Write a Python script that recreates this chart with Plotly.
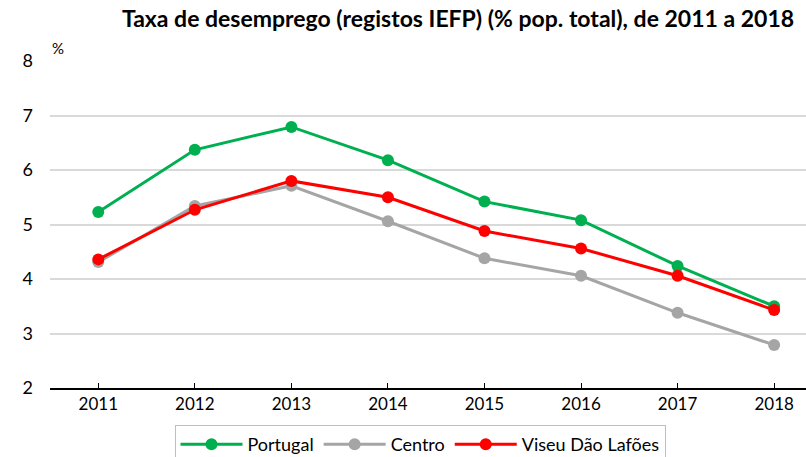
import plotly.graph_objects as go

years = ["2011", "2012", "2013", "2014", "2015", "2016", "2017", "2018"]
portugal = [5.23, 6.37, 6.79, 6.18, 5.42, 5.08, 4.24, 3.50]
centro = [4.31, 5.34, 5.71, 5.06, 4.38, 4.06, 3.38, 2.79]
viseu = [4.36, 5.27, 5.80, 5.50, 4.88, 4.56, 4.06, 3.43]

series = [
    ("Portugal", portugal, "#00B050"),
    ("Centro", centro, "#A5A5A5"),
    ("Viseu Dão Lafões", viseu, "#FF0000"),
]

font_family = "Lato, Open Sans, sans-serif"

fig = go.Figure()
for name, vals, color in series:
    fig.add_trace(go.Scatter(
        x=list(range(len(years))), y=vals, name=name, mode="lines+markers",
        line=dict(color=color, width=3),
        marker=dict(color=color, size=12),
    ))

fig.update_layout(
    width=806, height=457,
    margin=dict(l=50, r=0, t=61, b=69),
    paper_bgcolor="white", plot_bgcolor="white",
    font=dict(family=font_family, color="black", size=17),
    title=dict(
        text="<b>Taxa de desemprego (registos IEFP) (% pop. total), de 2011 a 2018</b>",
        x=458 / 806, xanchor="center", xref="container", y=1 - 19 / 457, yanchor="middle",
        yref="container",
        font=dict(size=23, family=font_family, color="black"),
    ),
    showlegend=True,
    legend=dict(
        orientation="h", x=420 / 806, xanchor="center", xref="container",
        y=1 - 425 / 457, yanchor="top", yref="container",
        bordercolor="#BFBFBF", borderwidth=1, font=dict(size=18),
        itemwidth=62, tracegroupgap=0,
    ),
    xaxis=dict(
        range=[-0.5, 7.33], tickmode="array",
        tickvals=list(range(len(years))), ticktext=years,
        showgrid=False, zeroline=False, automargin=False,
        showline=True, linecolor="black", linewidth=2,
        ticks="inside", ticklen=5, tickcolor="black", tickwidth=1,
        tickfont=dict(size=17),
    ),
    yaxis=dict(
        range=[2, 8], dtick=1, showgrid=True, gridcolor="#D9D9D9", gridwidth=2,
        zeroline=False, showline=False, ticks="", ticklen=0, automargin=False,
        ticklabelstandoff=16,
        tickfont=dict(size=18),
    ),
    annotations=[dict(
        text="%", xref="paper", yref="paper", x=0.0, y=1.0, xanchor="left",
        yanchor="bottom", showarrow=False, font=dict(size=15), xshift=0, yshift=2,
    )],
)

fig.write_html("out.html", config={"displayModeBar": False},
               post_script="document.body.style.margin='0px';")
